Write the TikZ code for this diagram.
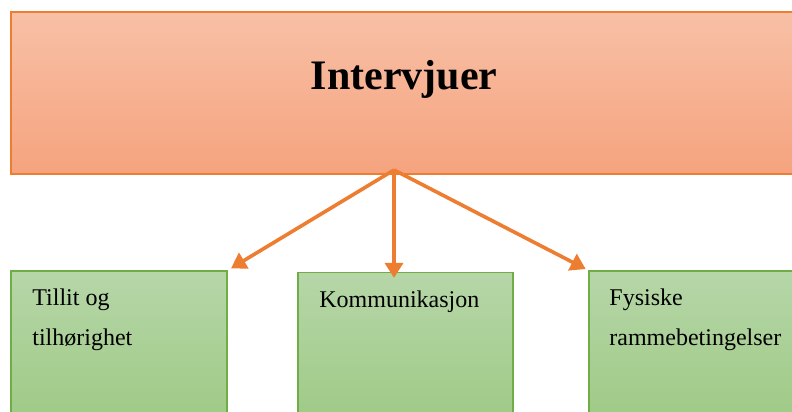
\documentclass[tikz,border=0pt]{standalone}
\usepackage{fontspec}
\setmainfont{Liberation Serif}
\usetikzlibrary{arrows.meta,positioning}

\tikzset{
    topbox/.style={draw=tab_orange, line width=0.6pt, top color=salmon_top, bottom color=salmon_bot,
        minimum width=394.5pt, minimum height=81pt, inner sep=0pt},
    greenbox/.style={draw=tab_green, line width=0.6pt, top color=green_top, bottom color=green_bot,
        minimum width=#1, minimum height=74.5pt, inner sep=0pt},
    boxlabel/.style={anchor=base west, inner sep=0pt, align=left,
        font=\fontsize{12}{20}\selectfont},
    link/.style={draw=tab_orange, line width=1.8pt, -{Triangle[length=7.5pt,width=9pt]}},
}

\begin{document}
\begin{tikzpicture}[x=0.5pt,y=-0.5pt]
    \definecolor{tab_orange}{HTML}{ED7D31}
    \definecolor{tab_green}{HTML}{70AD47}
    \definecolor{salmon_top}{HTML}{F8C0A6}
    \definecolor{salmon_bot}{HTML}{F5A37E}
    \definecolor{green_top}{HTML}{B6D6A8}
    \definecolor{green_bot}{HTML}{9FCA86}
    % \draw[help lines] (0,0) grid (792,412);
    \useasboundingbox (0,0) rectangle (792,412);

    \node[topbox] (intervjuer) at (405.5,93) {};
    \node[anchor=base, inner sep=0pt, font=\fontsize{21}{25}\selectfont\bfseries] (title) at (404,89) {Intervjuer};

    \node[greenbox=108pt] (tillit) at (119,345.5) {};
    \node[greenbox=107.5pt] (kommunikasjon) at (405.5,347) {};
    \node[greenbox=105.5pt] (fysiske) at (694.5,345.5) {};

    % base = last line
    \node[boxlabel] (tillit_text) at (32,345) {Tillit og\\tilhørighet};
    \node[boxlabel] (kommunikasjon_text) at (319,307) {Kommunikasjon};
    \node[boxlabel] (fysiske_text) at (609,345) {Fysiske\\rammebetingelser};

    \coordinate (hub) at (394,170);
    \draw[link, shorten >=2pt] (hub) -- (tillit.north east);
    \draw[link, shorten >=-3pt] (hub) -- (hub |- kommunikasjon.north);
    \draw[link, shorten >=1.5pt] (hub) -- (fysiske.north west);
\end{tikzpicture}
\end{document}
